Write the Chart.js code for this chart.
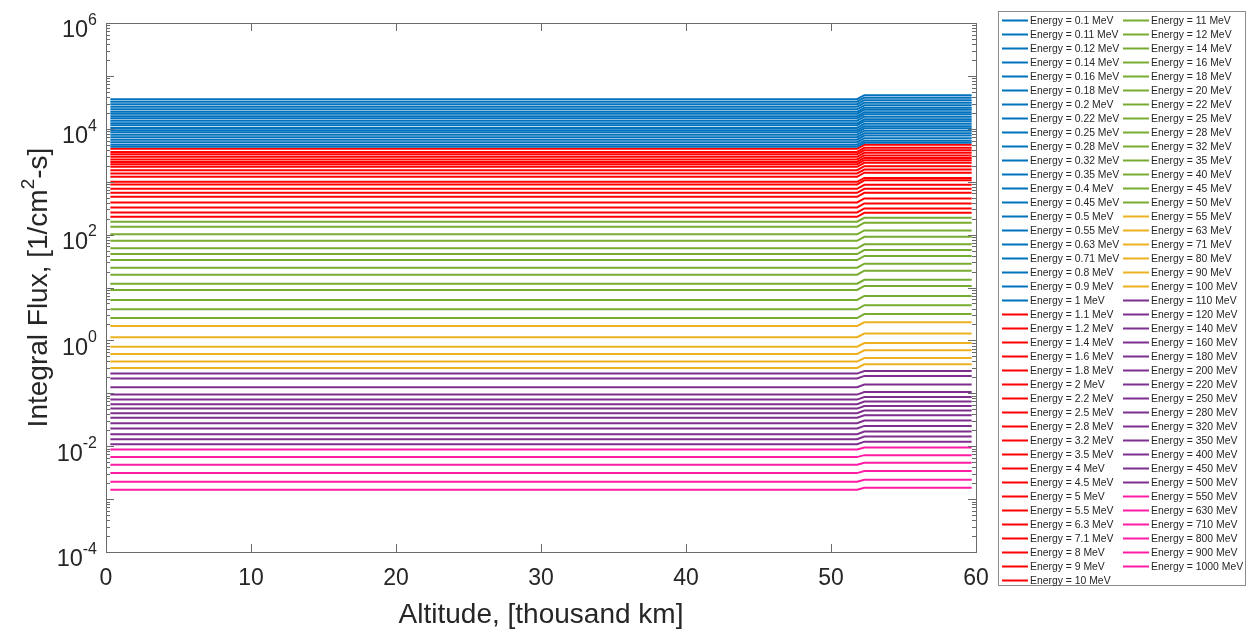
<!DOCTYPE html>
<html>
<head>
<meta charset="utf-8">
<title>Integral flux vs altitude</title>
<script src="https://cdn.jsdelivr.net/npm/chart.js@4.4.1/dist/chart.umd.min.js"></script>
<style>
  html, body { margin: 0; padding: 0; background: #fff; }
  #wrap { position: relative; width: 1252px; height: 630px; }
</style>
</head>
<body>
<div id="wrap"><canvas id="fluxChart" width="1252" height="630"></canvas></div>
<script>
// energy channels, MeV
const energies = [
  0.1, 0.11, 0.12, 0.14, 0.16, 0.18, 0.2, 0.22, 0.25, 0.28, 0.32, 0.35, 0.4, 0.45, 0.5, 0.55, 0.63, 0.71, 0.8, 0.9, 1,
  1.1, 1.2, 1.4, 1.6, 1.8, 2, 2.2, 2.5, 2.8, 3.2, 3.5, 4, 4.5, 5, 5.5, 6.3, 7.1, 8, 9, 10,
  11, 12, 14, 16, 18, 20, 22, 25, 28, 32, 35, 40, 45, 50,
  55, 63, 71, 80, 90, 100,
  110, 120, 140, 160, 180, 200, 220, 250, 280, 320, 350, 400, 450, 500,
  550, 630, 710, 800, 900, 1000
];

// integral flux below the step, 1/cm^2-s
const fluxBelow = [
  36200, 32500, 29200, 26200, 23400, 21000, 19300, 17300, 15800, 14200, 12700, 11700, 10400, 9380, 8600, 7740, 6950, 6240, 5580, 5010, 4560,
  4180, 3660, 3320, 2950, 2640, 2370, 2140, 1910, 1650, 1430, 1240, 995, 889, 735, 617, 519, 406, 327, 263, 217,
  175, 141, 101, 76.5, 55.0, 42.9, 33.1, 23.7, 17.5, 11.8, 8.98, 5.81, 3.88, 2.65,
  1.88, 1.15, 0.762, 0.555, 0.397, 0.302,
  0.236, 0.190, 0.130, 0.0946, 0.0761, 0.0623, 0.0514, 0.0421, 0.0344, 0.0273, 0.0216, 0.0169, 0.0136, 0.0109,
  0.00865, 0.00622, 0.00445, 0.00310, 0.00213, 0.00150
];

// integral flux above the step
const fluxAbove = [
  43100, 38700, 34700, 31200, 27800, 25000, 23000, 20600, 18800, 16900, 15100, 13900, 12400, 11200, 10200, 9210, 8270, 7430, 6640, 5960, 5430,
  4970, 4360, 3950, 3510, 3140, 2820, 2550, 2270, 1960, 1700, 1480, 1180, 1060, 875, 734, 618, 483, 389, 313, 258,
  208, 168, 120, 91.0, 65.5, 51.1, 39.4, 28.2, 20.8, 14.0, 10.7, 6.91, 4.62, 3.15,
  2.20, 1.35, 0.892, 0.649, 0.464, 0.353,
  0.264, 0.213, 0.146, 0.106, 0.0852, 0.0698, 0.0576, 0.0472, 0.0385, 0.0306, 0.0242, 0.0189, 0.0152, 0.0122,
  0.00943, 0.00678, 0.00485, 0.00338, 0.00232, 0.00164
];

// altitude samples, thousand km: start, step begin, step end, last
const altitudes = [0.3, 51.8, 52.3, 59.7];

const xTicks = [0, 10, 20, 30, 40, 50, 60];
const yTickExponents = [-4, -2, 0, 2, 4, 6];

const FONT = '"Liberation Sans", Arial, sans-serif';
const INK = '#262626';

const colourFor = e =>
  e <= 1 ? '#0072BD' :
  e <= 10 ? '#FF0000' :
  e <= 50 ? '#77AC30' :
  e <= 100 ? '#EDB120' :
  e <= 500 ? '#7E2F8E' : '#FF1CA4';

const datasets = energies.map((e, i) => ({
  label: 'Energy = ' + e + ' MeV',
  data: altitudes.map((a, k) => ({ x: a, y: k < 2 ? fluxBelow[i] : fluxAbove[i] })),
  borderColor: colourFor(e),
  backgroundColor: colourFor(e),
  borderWidth: 2,
  pointRadius: 0,
  tension: 0,
  fill: false
}));

// draw text pieces with optional superscripts, left to right
function richWidth(ctx, parts, size) {
  let w = 0;
  parts.forEach(p => {
    ctx.font = (p.sup ? size * 0.68 : size) + 'px ' + FONT;
    w += ctx.measureText(p.t).width;
  });
  return w;
}
function drawRich(ctx, parts, x, y, size) {
  let cx = x;
  parts.forEach(p => {
    ctx.font = (p.sup ? size * 0.68 : size) + 'px ' + FONT;
    ctx.fillText(p.t, cx, p.sup ? y - size * 0.45 : y);
    cx += ctx.measureText(p.t).width;
  });
}

const axesPlugin = {
  id: 'boxAxes',
  afterDatasetsDraw(chart) {
    const { ctx, chartArea: a, scales: { x, y } } = chart;
    ctx.save();
    ctx.strokeStyle = '#6a6a6a';
    ctx.lineWidth = 1;
    ctx.strokeRect(Math.round(a.left) + 0.5, Math.round(a.top) + 0.5,
      Math.round(a.right - a.left), Math.round(a.bottom - a.top));

    ctx.beginPath();
    xTicks.forEach(v => {
      const px = Math.round(x.getPixelForValue(v)) + 0.5;
      ctx.moveTo(px, a.bottom); ctx.lineTo(px, a.bottom - 8);
      ctx.moveTo(px, a.top); ctx.lineTo(px, a.top + 8);
    });
    for (let d = -4; d <= 6; d++) {
      for (let m = 1; m <= 9; m++) {
        if (d === 6 && m > 1) break;
        const py = Math.round(y.getPixelForValue(m * Math.pow(10, d))) + 0.5;
        const len = m === 1 ? 8 : 4;
        ctx.moveTo(a.left, py); ctx.lineTo(a.left + len, py);
        ctx.moveTo(a.right, py); ctx.lineTo(a.right - len, py);
      }
    }
    ctx.stroke();

    ctx.fillStyle = INK;
    ctx.textBaseline = 'middle';
    ctx.textAlign = 'center';
    ctx.font = '23px ' + FONT;
    xTicks.forEach(v => ctx.fillText(String(v), x.getPixelForValue(v), a.bottom + 27));

    ctx.textAlign = 'left';
    yTickExponents.forEach(p => {
      const parts = [{ t: '10' }, { t: String(p), sup: true }];
      const w = richWidth(ctx, parts, 23.5);
      drawRich(ctx, parts, a.left - 9 - w, y.getPixelForValue(Math.pow(10, p)) + 8, 23.5);
    });

    // axis titles
    ctx.textBaseline = 'alphabetic';
    ctx.font = '28px ' + FONT;
    ctx.textAlign = 'center';
    ctx.fillText('Altitude, [thousand km]', (a.left + a.right) / 2, a.bottom + 71);

    const yTitle = [{ t: 'Integral Flux, [1/cm' }, { t: '2', sup: true }, { t: '-s]' }];
    ctx.textAlign = 'left';
    const tw = richWidth(ctx, yTitle, 28);
    ctx.translate(47, (a.top + a.bottom) / 2);
    ctx.rotate(-Math.PI / 2);
    drawRich(ctx, yTitle, -tw / 2, 0, 28);
    ctx.restore();
  },
  afterDraw(chart) {
    const ctx = chart.ctx;
    const items = chart.data.datasets;
    const rows = Math.ceil(items.length / 2);
    ctx.save();
    ctx.fillStyle = '#fff';
    ctx.fillRect(998.5, 11.5, 247, 574);
    ctx.strokeStyle = '#8a8a8a';
    ctx.lineWidth = 1;
    ctx.strokeRect(998.5, 11.5, 247, 574);
    ctx.font = '10.4px ' + FONT;
    ctx.textBaseline = 'middle';
    ctx.textAlign = 'left';
    items.forEach((ds, i) => {
      const col = i < rows ? 0 : 1;
      const row = i < rows ? i : i - rows;
      const x0 = 1002 + col * 121;
      const yy = 20.5 + row * 14;
      ctx.strokeStyle = ds.borderColor;
      ctx.lineWidth = 2;
      ctx.beginPath();
      ctx.moveTo(x0, yy); ctx.lineTo(x0 + 26, yy);
      ctx.stroke();
      ctx.fillStyle = INK;
      ctx.fillText(ds.label, x0 + 28, yy + 0.5);
    });
    ctx.restore();
  }
};

new Chart(document.getElementById('fluxChart'), {
  type: 'line',
  data: { datasets },
  options: {
    responsive: false,
    animation: false,
    devicePixelRatio: 1,
    layout: { padding: { left: 106, top: 23, right: 276, bottom: 78 } },
    plugins: { legend: { display: false }, tooltip: { enabled: false } },
    scales: {
      x: { type: 'linear', min: 0, max: 60, display: false },
      y: { type: 'logarithmic', min: 1e-4, max: 1e6, display: false }
    }
  },
  plugins: [axesPlugin]
});
</script>
</body>
</html>
